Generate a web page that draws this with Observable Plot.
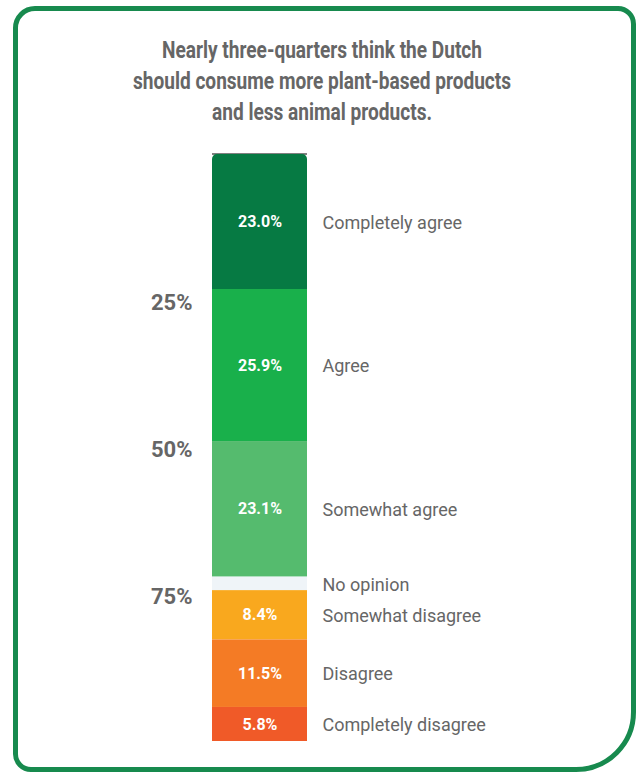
<!DOCTYPE html>
<html><head><meta charset="utf-8">
<script src="https://cdn.jsdelivr.net/npm/d3@7"></script>
<script src="https://cdn.jsdelivr.net/npm/@observablehq/plot@0.6"></script>
<style>
body{margin:0;background:#fff;}
#wrap{position:relative;width:644px;height:774px;overflow:hidden;font-family:Roboto,sans-serif;}
#frame{position:absolute;left:13px;top:6px;width:623px;height:766px;box-sizing:border-box;border:5px solid #178a4e;border-radius:22px 18px 60px 18px;pointer-events:none;}
#title{position:absolute;left:0;width:644px;top:35px;text-align:center;font-weight:700;font-size:24px;line-height:31px;color:#666;}
#title div{transform:scaleX(0.795);transform-origin:center;white-space:nowrap;}
#chart{position:absolute;left:0;top:0;}
</style></head>
<body>
<div id="wrap">
  <div id="chart"></div>
  <div id="title">
    <div>Nearly three-quarters think the Dutch</div>
    <div>should consume more plant-based products</div>
    <div>and less animal products.</div>
  </div>
  <div id="frame"></div>
</div>
<script>
const categories = ["Completely agree","Agree","Somewhat agree","No opinion","Somewhat disagree","Disagree","Completely disagree"];
const values = [23.0, 25.9, 23.1, 2.3, 8.4, 11.5, 5.8];
const valueLabels = ["23.0%","25.9%","23.1%","","8.4%","11.5%","5.8%"];
const colors = ["#067a43","#19b04b","#55bb6e","#eff4f8","#f9a81e","#f47b25","#f05a28"];
const yTicks = [25, 50, 75];

let acc = 0;
const rows = categories.map((c, i) => {
  const y1 = acc; acc += values[i];
  return {cat: c, value: values[i], label: valueLabels[i], color: colors[i], y1, y2: acc, mid: (y1 + acc) / 2};
});
const topRow = [rows[0]];
const topHalf = [{...rows[0], y1: rows[0].mid}];

const chart = Plot.plot({
  width: 644, height: 774,
  marginTop: 154, marginBottom: 33, marginLeft: 212, marginRight: 337,
  style: {fontFamily: "Roboto, sans-serif", background: "none"},
  x: {domain: [0, 1], axis: null},
  y: {domain: [0, 100], reverse: true, axis: null},
  color: {type: "identity"},
  marks: [
    Plot.ruleY([0], {x1: 0, x2: 1, stroke: "#000", strokeWidth: 1, dy: -0.5}),
    Plot.rect(topRow, {x1: 0, x2: 1, y1: "y1", y2: "y2", fill: "color", rx: 5}),
    Plot.rect(topHalf, {x1: 0, x2: 1, y1: "y1", y2: "y2", fill: "color"}),
    Plot.rect(rows.slice(1), {x1: 0, x2: 1, y1: "y1", y2: "y2", fill: "color"}),
    Plot.text(rows.filter(d => d.label), {x: 0.5, y: "mid", text: "label", fill: "white", fontWeight: "bold", fontSize: 16}),
    Plot.text(rows, {x: 1, y: "mid", text: "cat", dx: 15, dy: 1, textAnchor: "start", fill: "#666", fontSize: 18}),
    Plot.axisY({ticks: yTicks, tickFormat: d => d + "%", tickSize: 0, tickPadding: 20, dy: 2, fontSize: 22, fontWeight: "bold", fill: "#666", label: null})
  ]
});
document.getElementById("chart").appendChild(chart);
</script>
</body></html>
